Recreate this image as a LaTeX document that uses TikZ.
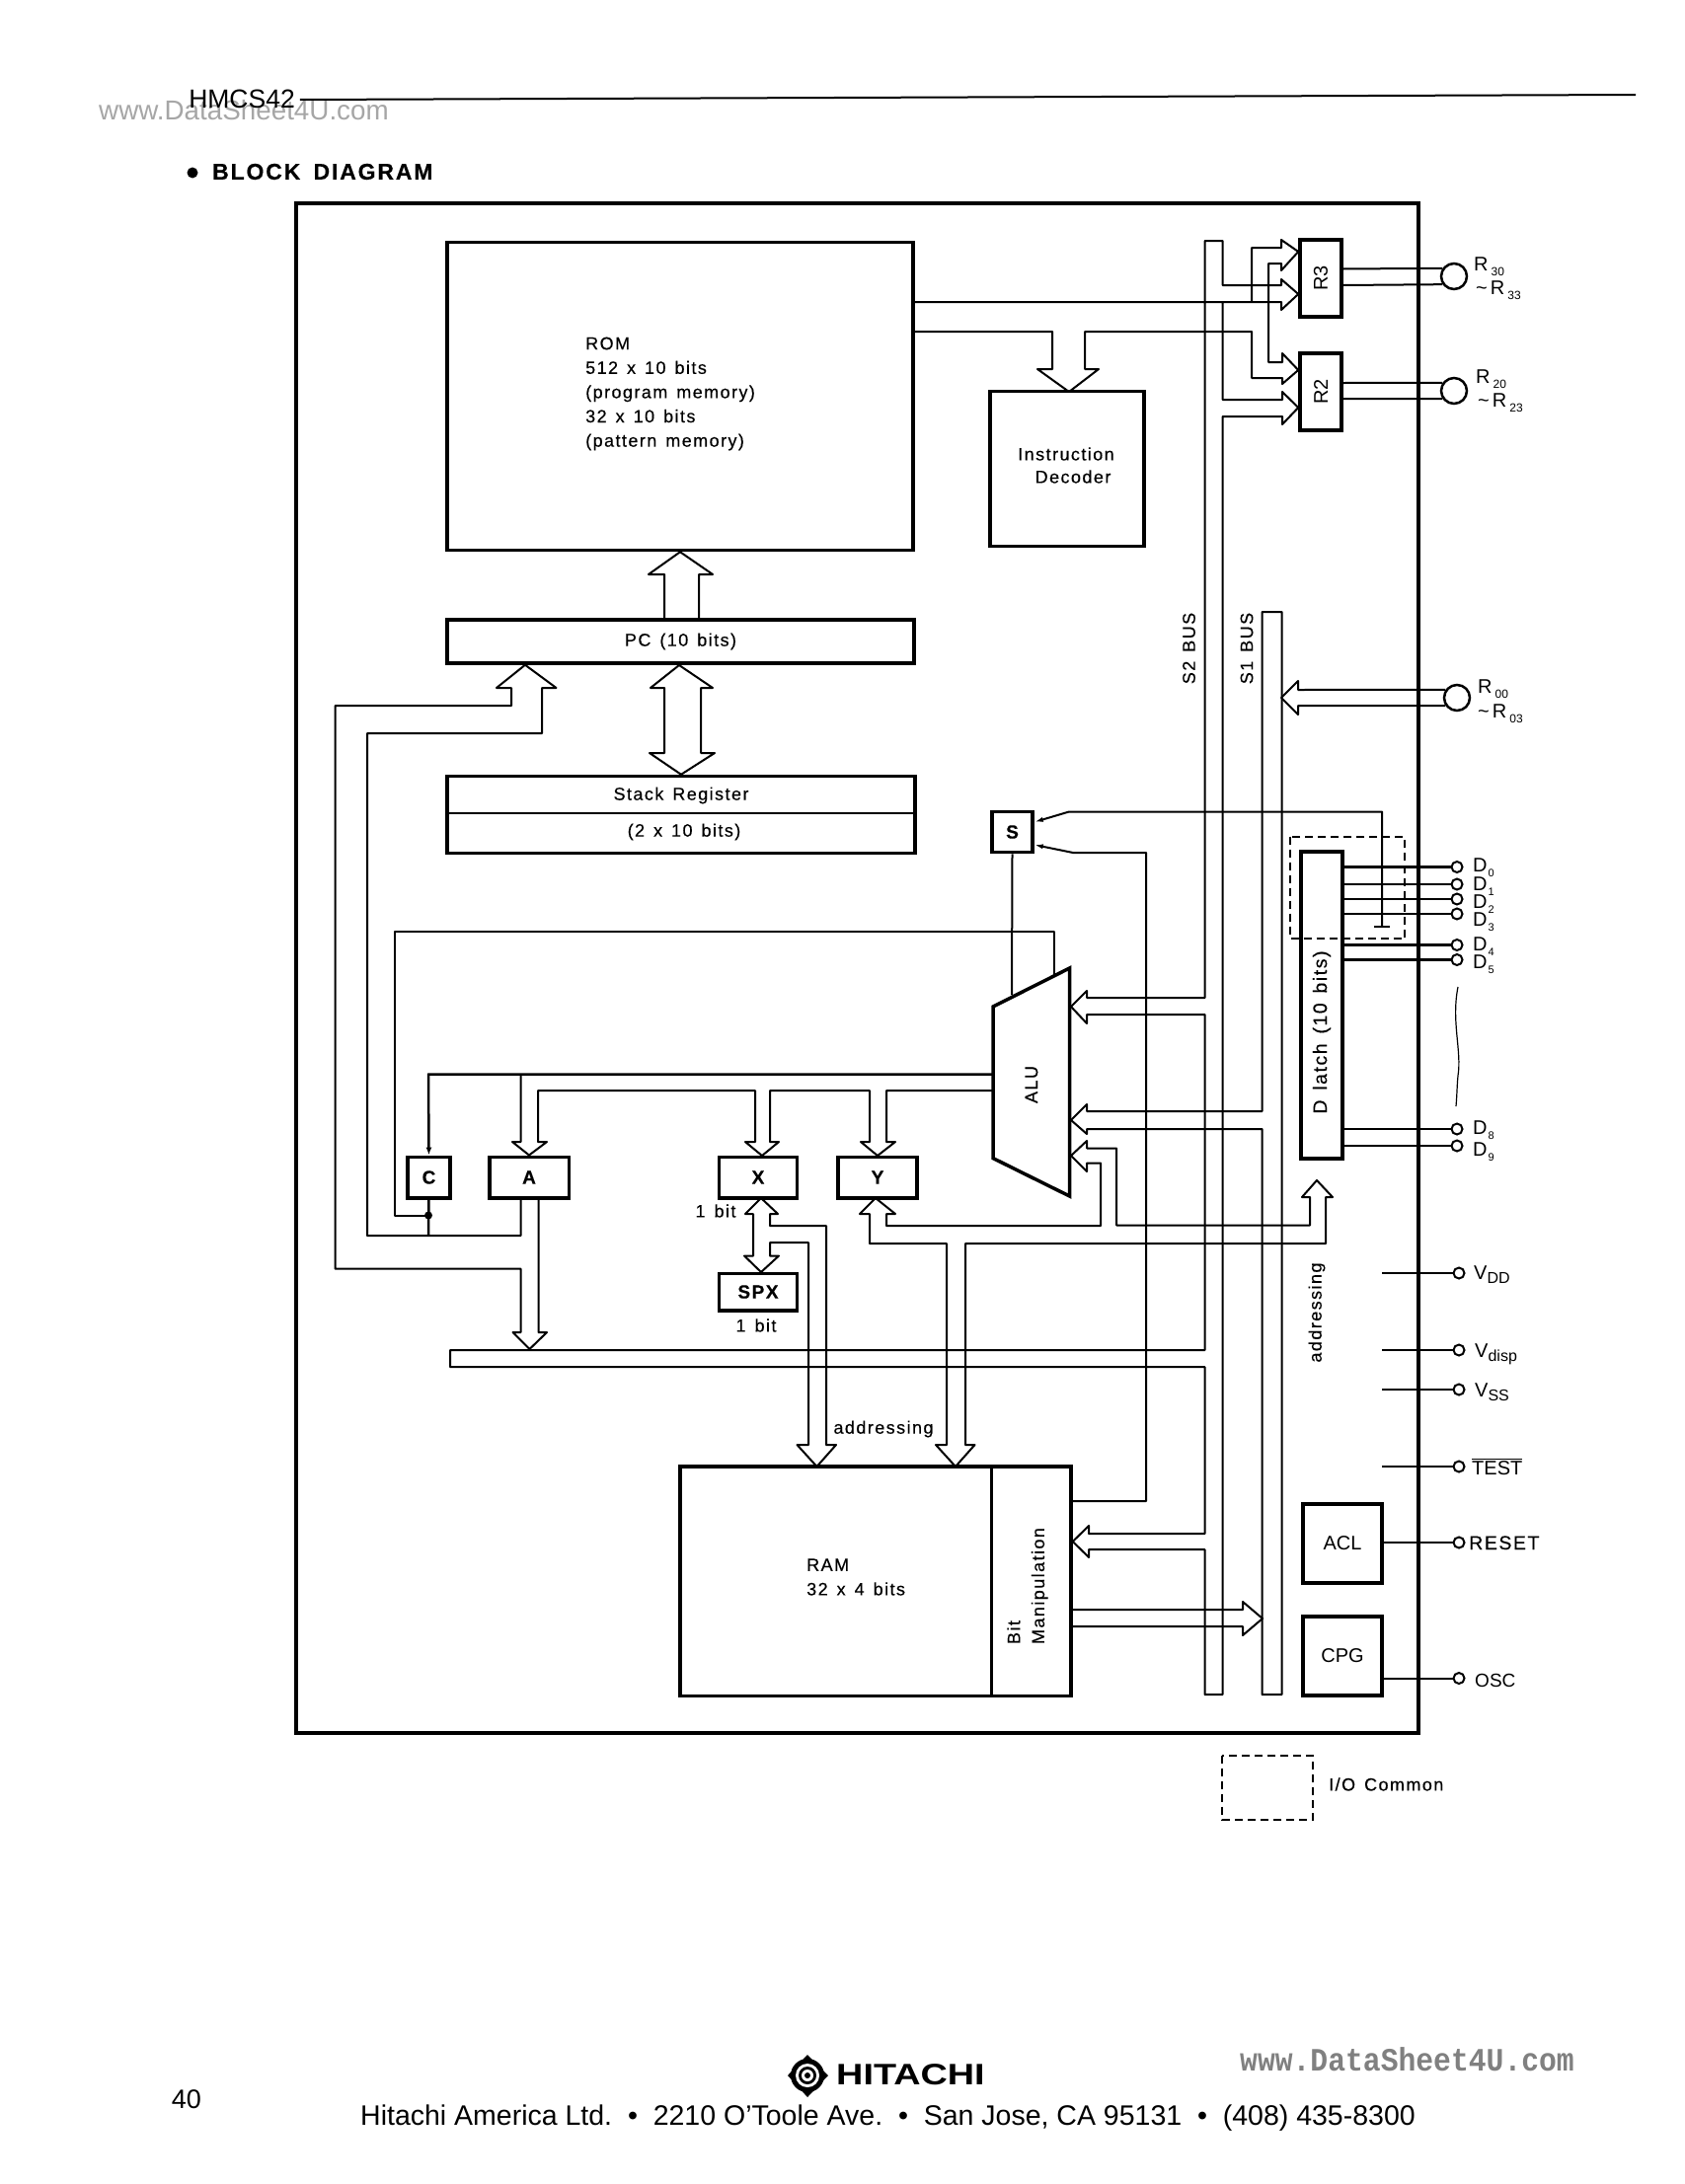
\documentclass[tikz,border=0pt]{standalone}
\usepackage{fontspec}
\usepackage{xcolor}
\setmainfont{Liberation Sans}
\newfontfamily\lblfont[LetterSpace=8,FakeBold=0.3]{Liberation Sans}
\newfontfamily\wmfont[FakeStretch=0.9]{Liberation Mono}
\newfontfamily\brandfont[FakeStretch=1.26]{Liberation Sans}
\usetikzlibrary{arrows.meta}
\newcommand{\lblsize}{\lblfont\fontsize{18}{24.6}\selectfont\spaceskip=0.5em\relax}
\newcommand{\latchsize}{\lblfont\fontsize{19.5}{24}\selectfont\spaceskip=0.5em\relax}
\newcommand{\lowsub}[1]{\hspace{3pt}\raisebox{-5pt}{\fontsize{12}{12}\selectfont #1}}
\newcommand{\bigsub}[1]{\raisebox{-4.5pt}{\fontsize{16}{16}\selectfont #1}}
\tikzset{
  block/.style={draw, line width=3.5pt, inner sep=0pt, font=\lblsize},
  regbox/.style={block, font=\lblfont\bfseries\fontsize{19}{24}\selectfont},
  wire/.style={line width=2pt, line join=round},
  pinnode/.style={draw, circle, line width=2pt, minimum size=11pt, inner sep=0pt},
  bigpin/.style={draw, circle, line width=2.5pt, minimum size=26pt, inner sep=0pt},
  lbl/.style={inner sep=0pt, font=\lblsize},
  pinlbl/.style={inner sep=0pt, anchor=base west, font=\fontsize{20}{24}\selectfont},
}
\begin{document}
\begin{tikzpicture}[x=1pt, y=-1pt]
    \useasboundingbox (0,0) rectangle (1707,2213);

    % Page head
    \node[inner sep=0pt, text=black!35, font=\fontsize{27.8}{30}\selectfont] (wmtop) at (247,112) {www.DataSheet4U.com};
    \node[inner sep=0pt, font=\fontsize{26.5}{30}\selectfont] (chip) at (245,100) {HMCS42};
    \draw[line width=2pt] (chip.east) ++(5,1) coordinate (rulestart) -- (1657,96);
    \fill (195,175) circle (5.5);
    \node[inner sep=0pt, anchor=west, font=\lblfont\bfseries\fontsize{23}{26}\selectfont] (title) at (215,174) {BLOCK\hspace{5pt} DIAGRAM};

    % Chip outline
    \draw[line width=4pt] (300,206) rectangle (1437,1756);

    % Blocks
    \node[block, minimum width=472pt, minimum height=312pt] (rom) at (689,401.5) {};
    \node[lbl, anchor=west, align=left] (romtext) at (593,399) {ROM\\512 x 10 bits\\(program memory)\\32 x 10 bits\\(pattern memory)};
    \node[block, minimum width=473pt, minimum height=44pt] (pc) at (689.5,650) {PC (10 bits)};
    \node[block, minimum width=474pt, minimum height=78pt] (stack) at (690,825.5) {};
    \draw[wire] (stack.west |- 0,824) -- (stack.east |- 0,824);
    \node[lbl] (stacktop) at (690,806) {Stack Register};
    \node[lbl] (stackbot) at (693,843) {(2 x 10 bits)};
    \node[block, minimum width=156pt, minimum height=157pt] (id) at (1081,475) {};
    \node[lbl] (idtop) at (1080,460) {Instruction};
    \node[lbl] (idbot) at (1087,483) {Decoder};
    \node[block, minimum width=42pt, minimum height=78pt, font=\fontsize{20}{24}\selectfont] (r3) at (1338,282) {\rotatebox{90}{R3}};
    \node[block, minimum width=42pt, minimum height=78pt, font=\fontsize{20}{24}\selectfont] (r2) at (1338,397) {\rotatebox{90}{R2}};
    \node[regbox, minimum width=41pt, minimum height=41pt] (s) at (1025.5,843) {S};
    \node[block, minimum width=42pt, minimum height=311pt] (dlatch) at (1339,1018.5) {};
    \node[lbl, rotate=90, font=\latchsize] (dlatchtext) at (1339,1046) {D latch (10 bits)};
    \node[regbox, minimum width=43pt, minimum height=41.5pt] (c) at (434.5,1193) {C};
    \node[regbox, minimum width=80.5pt, minimum height=41.5pt] (a) at (536,1193) {A};
    \node[regbox, minimum width=79pt, minimum height=41.5pt] (regx) at (768,1193) {X};
    \node[regbox, minimum width=80pt, minimum height=41.5pt] (regy) at (889,1193) {Y};
    \node[regbox, minimum width=79pt, minimum height=37.5pt] (spx) at (768,1309) {SPX};
    \node[lbl] (xbit) at (725,1227) {1 bit};
    \node[lbl] (spxbit) at (766,1343) {1 bit};
    \node[block, minimum width=315.5pt, minimum height=232.6pt] (ram) at (846.75,1602.3) {};
    \node[lbl, anchor=west, align=left] (ramtext) at (817,1598) {RAM\\32 x 4 bits};
    \node[block, minimum width=80.5pt, minimum height=232.6pt] (bitman) at (1044.75,1602.3) {};
    \node[lbl, rotate=90, align=left] (bittext) at (1041,1607) {Bit\\Manipulation};
    \node[block, minimum width=80pt, minimum height=80pt, font=\fontsize{20}{24}\selectfont] (acl) at (1360,1563.8) {ACL};
    \node[block, minimum width=80pt, minimum height=80pt, font=\fontsize{20}{24}\selectfont] (cpg) at (1360,1677.8) {CPG};

    % ALU
    \draw[line width=3.5pt, line join=miter] (1006,1020) -- (1083.5,981) -- (1083.5,1212) -- (1006,1173.6) -- cycle;
    \node[lbl, rotate=90] (alu) at (1045,1099) {ALU};

    % S2 bus with its branches
    \draw[wire] (rom.east |- 0,306) -- (1298,306) -- (1298,314) -- (r3.west |- 0,298) -- (1298,283) -- (1298,289)
        -- (1238.5,289) -- (1238.5,244) -- (1220.5,244) -- (1220.5,1011) -- (1101,1011) -- (1101,1004) -- (1085,1020)
        -- (1101,1037) -- (1101,1028) -- (1220.5,1028) -- (1220.5,1368) -- (456,1368) -- (456,1385) -- (1220.5,1385)
        -- (1220.5,1554) -- (1103,1554) -- (1103,1546) -- (bitman.east |- 0,1562) -- (1103,1578) -- (1103,1570)
        -- (1220.5,1570) -- (1220.5,1717) -- (1238.5,1717) -- (1238.5,422) -- (1299,422) -- (1299,430) -- (r2.west |- 0,413)
        -- (1299,397) -- (1299,405) -- (1238.5,405) -- (1238.5,306);

    % ROM lower lines, decoder, R2 and R3
    \draw[wire] (rom.east |- 0,336) -- (1066,336) -- (1066,374) -- (1051,374) -- (1083,397) -- (1113,374) -- (1099,374)
        -- (1099,336) -- (1268,336) -- (1268,383) -- (1299,383) -- (1299,389) -- (r2.west |- 0,375) -- (1299,358)
        -- (1299,367) -- (1285,367) -- (1285,267) -- (1298,267) -- (1298,274) -- (r3.west |- 0,255) -- (1298,243)
        -- (1298,251) -- (1268,251) -- (1268,306);

    % S1 bus
    \draw[wire] (1278.5,1144) -- (1101,1144) -- (1101,1149) -- (1085,1135) -- (1101,1119) -- (1101,1126) -- (1278.5,1126)
        -- (1278.5,620) -- (1298.5,620) -- (1298.5,1717) -- (1278.5,1717) -- cycle;
    \node[lbl, rotate=90] (s2name) at (1204.5,657) {S2 BUS};
    \node[lbl, rotate=90] (s1name) at (1263,657) {S1 BUS};

    % PC, ROM and stack
    \draw[wire] (673,628) -- (673,582) -- (657,582) -- (rom.south) -- (722,582) -- (708,582) -- (708,628);
    \draw[wire] (673,697) -- (659,697) -- (688,674) -- (722,697) -- (710,697) -- (710,763) -- (724,763)
        -- (stack.north) -- (658,763) -- (673,763) -- cycle;

    % A, C and the bar
    \draw[wire] (s.south) -- (1025,1008);
    \draw[wire] (1068,988) -- (1068,943.5) -- (399.5,943.5) -- (399.5,1231.5) -- (434,1231.5);
    \draw[wire, line width=2.5pt, -{Latex[length=8pt,width=6pt]}] (1006,1088.5) -- (434,1088.5) -- (c.north);
    \draw[wire, line width=2.5pt] (c.south) -- (434,1252);
    \fill (434,1231.5) circle (4);
    \draw[wire] (527.5,1088.5) -- (527.5,1157) -- (519,1157) -- (a.north) -- (554,1157) -- (545,1157) -- (545,1105)
        -- (765,1105) -- (765,1157) -- (755,1157) -- (772,1171) -- (789,1157) -- (780,1157) -- (780,1105)
        -- (881,1105) -- (881,1157) -- (872,1157) -- (889,1171) -- (907,1157) -- (898,1157) -- (898,1105) -- (1006,1105);
    \draw[wire] (a.south -| 527.5,0) -- (527.5,1252) -- (372,1252) -- (372,743) -- (549,743) -- (549,697) -- (563.5,697)
        -- (pc.south -| 532,0) -- (503,697) -- (518,697) -- (518,715) -- (339.5,715) -- (339.5,1285.5) -- (527.5,1285.5)
        -- (527.5,1350) -- (519.5,1350) -- (536.5,1367) -- (554,1350) -- (545.5,1350) -- (a.south -| 545.5,0);

    % X, SPX and RAM addressing
    \draw[wire] (763,1230) -- (755,1230) -- (771,1214) -- (788,1230) -- (780,1230) -- (780,1242) -- (837,1242)
        -- (837,1464) -- (847,1464) -- (827.5,1486) -- (807.5,1464) -- (819,1464) -- (819,1259) -- (780,1259)
        -- (780,1272.5) -- (789,1272.5) -- (771,1289) -- (754,1272.5) -- (763,1272.5) -- cycle;

    % Y, RAM addressing, D latch addressing and ALU
    \draw[wire] (1115,1178.5) -- (1115,1242) -- (898,1242) -- (898,1230) -- (907,1230) -- (887,1214) -- (871,1230)
        -- (881,1230) -- (881,1260) -- (959,1260) -- (959,1464) -- (948,1464) -- (968,1486) -- (987.5,1464)
        -- (978,1464) -- (978,1260) -- (1343,1260) -- (1343,1213) -- (1350,1213) -- (1334,1196) -- (1319,1213)
        -- (1327,1213) -- (1327,1241.5) -- (1131,1241.5) -- (1131,1163.5) -- (1101,1163.5) -- (1101,1156) -- (1085,1171)
        -- (1101,1187) -- (1101,1178.5) -- cycle;
    \node[lbl] (addrram) at (895,1448) {addressing};
    \node[lbl, rotate=90] (addrd) at (1334,1330) {addressing};

    % Bit manipulation
    \draw[wire, -{Latex[length=9pt,width=5pt]}] (bitman.east |- 0,1521) -- (1161,1521) -- (1161,864) -- (1087,864) -- (s.east |- 0,856);
    \draw[wire] (bitman.east |- 0,1631) -- (1259,1631) -- (1259,1623) -- (1279,1640) -- (1259,1657) -- (1259,1648) -- (bitman.east |- 0,1648);

    % S from D latch
    \draw[wire, -{Latex[length=9pt,width=5pt]}] (1400,938.5) -- (1400,822.5) -- (1083,822.5) -- (s.east |- 0,833);
    \draw[wire] (1392,938.5) -- (1408,938.5);
    \draw[line width=2pt, dash pattern=on 8pt off 5pt] (1307,847.5) rectangle (1423,951);

    % R ports
    \node[bigpin] (r30) at (1473,280) {};
    \node[bigpin] (r20) at (1473,396) {};
    \node[bigpin] (r00) at (1476,707) {};
    \draw[wire] (r3.east |- 0,272.5) -- (r30.145);
    \draw[wire] (r3.east |- 0,289) -- (r30.215);
    \draw[wire] (r2.east |- 0,388) -- (r20.145);
    \draw[wire] (r2.east |- 0,404) -- (r20.215);
    \draw[wire] (r00.145) -- (1315,699) -- (1315,690) -- (1298,707) -- (1315,724) -- (1315,715) -- (r00.215);
    \foreach \name/\xx/\yy/\sub in {r3a/1493/274/30, r2a/1495/388/20, r0a/1497/702/00} {
        \node[pinlbl] (\name) at (\xx,\yy) {R\lowsub{\sub}};
    }
    \foreach \name/\xx/\yy/\sub in {r3b/1495/298/33, r2b/1497/412/23, r0b/1497/727/03} {
        \node[pinlbl] (\name) at (\xx,\yy) {\textasciitilde\hspace{3pt}R\lowsub{\sub}};
    }

    % D pins
    \foreach \name/\yy/\labely/\sub in {d0/878.5/883/0, d1/896/902/1, d2/911/920/2, d3/926/938/3, d4/957.5/963/4, d5/972.5/981/5, d8/1144/1149/8, d9/1161/1171/9} {
        \node[pinnode] (\name) at (1476,\yy) {};
        \draw[wire, line width=2.5pt] (dlatch.east |- \name) -- (\name);
        \node[pinlbl] (\name text) at (1492,\labely) {D\hspace{1pt}\raisebox{-5pt}{\fontsize{11}{11}\selectfont\sub}};
    }
    \draw[line width=1.2pt] (1477,1000) .. controls (1470,1035) and (1481,1065) .. (1477,1090) .. controls (1476,1100) and (1476,1110) .. (1475,1121);

    % Supply and control pins
    \foreach \name/\yy in {vdd/1290, vdisp/1368, vss/1408, test/1486} {
        \coordinate (\name stub) at (1400,\yy);
        \node[pinnode] (\name) at (1478,\yy) {};
        \draw[wire] (\name stub) -- (\name);
    }
    \node[pinlbl] (vddtext) at (1493,1296) {V\bigsub{DD}};
    \node[pinlbl] (vdisptext) at (1494,1375) {V\bigsub{disp}};
    \node[pinlbl] (vsstext) at (1494,1415) {V\bigsub{SS}};
    \node[pinlbl] (testtext) at (1491,1494) {$\overline{\mbox{TEST}}$};
    \node[pinnode] (reset) at (1478,1563) {};
    \node[pinnode] (osc) at (1478,1700.5) {};
    \draw[wire, line width=2.5pt] (acl.east |- reset) -- (reset);
    \draw[wire] (cpg.east |- osc) -- (osc);
    \node[pinlbl, font=\lblfont\fontsize{19.5}{24}\selectfont] (resettext) at (1488,1570) {RESET};
    \node[pinlbl, font=\fontsize{19}{24}\selectfont] (osctext) at (1494,1709) {OSC};

    % I/O legend
    \draw[line width=2pt, dash pattern=on 8pt off 5pt] (1238,1778.5) rectangle (1330,1843.5);
    \node[lbl, anchor=west] (iotext) at (1346,1808) {I/O Common};

    % Page foot
    \node[inner sep=0pt, font=\fontsize{27}{30}\selectfont] (pagenum) at (189,2127) {40};
    \fill (818,2082) -- (839,2103) -- (818,2125) -- (798,2103) -- cycle;
    \fill (818,2103) circle (17);
    \fill[white] (818,2103) circle (12);
    \fill (818,2103) circle (9);
    \fill[white] (818,2103) circle (6);
    \fill (818,2103) circle (3);
    \node[inner sep=0pt, anchor=west, font=\brandfont\bfseries\fontsize{30}{32}\selectfont] (brand) at (847,2102) {HITACHI};
    \node[inner sep=0pt, anchor=base west, font=\fontsize{28.5}{30}\selectfont] (addr) at (365,2153) {Hitachi America Ltd.\ \ \textbullet\ \ 2210 O'Toole Ave.\ \ \textbullet\ \ San Jose, CA 95131\ \ \textbullet\ \ (408) 435-8300};
    \node[inner sep=0pt, anchor=west, text=black!50, font=\wmfont\bfseries\fontsize{33}{34}\selectfont] (wmfoot) at (1256,2087) {www.DataSheet4U.com};
\end{tikzpicture}
\end{document}
